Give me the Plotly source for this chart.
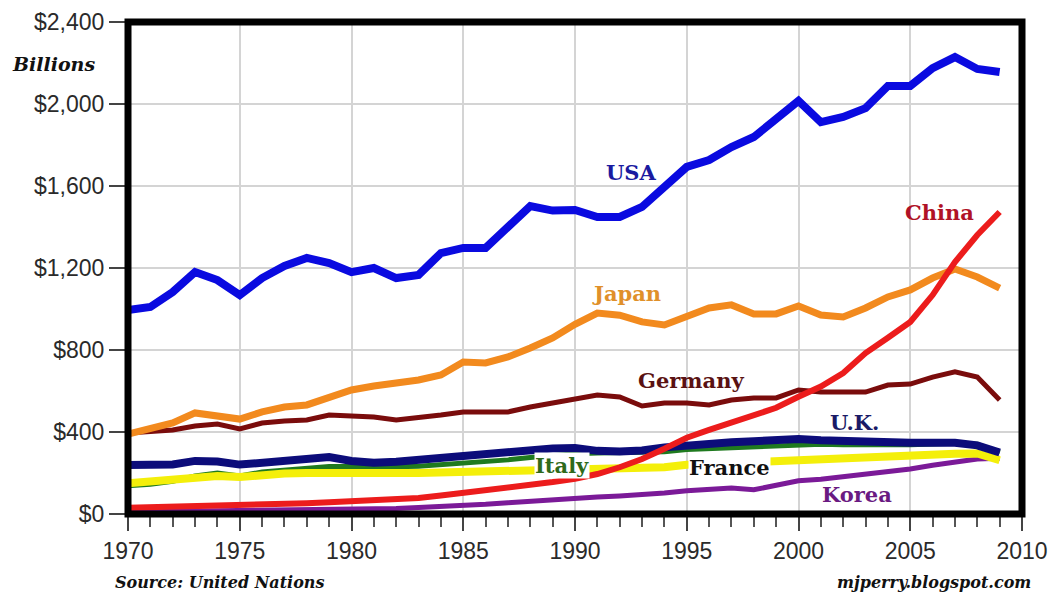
import plotly.graph_objects as go

years = list(range(1970, 2010))

usa = [995, 1010, 1083, 1180, 1141, 1068, 1151, 1210, 1249, 1224,
       1180, 1200, 1151, 1166, 1273, 1298, 1298, 1395, 1502, 1480,
       1483, 1449, 1449, 1498, 1595, 1693, 1727, 1790, 1839, 1932,
       2015, 1912, 1937, 1980, 2088, 2088, 2175, 2229, 2171, 2156]

china = [30, 32, 34, 37, 39, 42, 44, 47, 53, 57,
         61, 65, 71, 78, 90, 103, 112, 125, 140, 156,
         172, 195, 228, 268, 318, 372, 410, 447, 483, 518,
         572, 622, 688, 785, 860, 937, 1068, 1229, 1361, 1473]

japan = [390, 415, 444, 493, 478, 463, 498, 522, 532, 571,
         605, 624, 639, 654, 678, 741, 737, 766, 810, 859,
         925, 980, 970, 937, 922, 961, 1005, 1020, 976, 976,
         1015, 971, 961, 1005, 1059, 1093, 1151, 1195, 1156, 1102]

germany = [395, 400, 410, 429, 439, 415, 444, 454, 459, 483,
           478, 473, 459, 468, 483, 498, 498, 498, 522, 541,
           560, 580, 571, 527, 541, 541, 532, 556, 566, 566,
           605, 595, 595, 595, 629, 634, 668, 693, 668, 556]

uk = [239, 239, 242, 259, 256, 241, 249, 259, 268, 278,
      259, 250, 255, 265, 272, 278, 288, 300, 313, 320,
      322, 308, 305, 310, 325, 335, 342, 350, 355, 360,
      366, 360, 355, 355, 352, 348, 348, 348, 335, 300]

italy = [138, 145, 160, 185, 200, 185, 205, 212, 220, 232,
         232, 230, 230, 233, 240, 248, 255, 264, 276, 286,
         294, 298, 300, 296, 304, 315, 320, 324, 328, 331,
         338, 340, 338, 336, 338, 338, 342, 345, 340, 298]

france = [150, 158, 168, 180, 185, 180, 192, 197, 200, 202,
          200, 200, 200, 200, 202, 205, 208, 210, 215, 218,
          220, 222, 222, 224, 228, 240, 245, 250, 255, 260,
          263, 268, 272, 276, 280, 285, 290, 294, 295, 262]

korea = [10, 11, 12, 14, 15, 16, 18, 20, 22, 24,
         23, 25, 27, 32, 36, 40, 47, 55, 63, 68,
         76, 83, 88, 93, 102, 113, 120, 127, 118, 140,
         162, 170, 182, 190, 205, 220, 238, 255, 268, 272]

y_ticks = [0, 400, 800, 1200, 1600, 2000, 2400]
y_tick_labels = ["$0", "$400", "$800", "$1,200", "$1,600", "$2,000", "$2,400"]
x_ticks = [1970, 1975, 1980, 1985, 1990, 1995, 2000, 2005, 2010]

# (name, values, line colour, width, label colour, label x, label y, label bg)
series = [
    ("Korea", korea, "#7b1a98", 5, "#6a1a82", 2002.6, 93, None),
    ("Italy", italy, "#1f7a1f", 5, "#2f6a1a", 1989.4, 239, "white"),
    ("France", france, "#f4ef0a", 8, "#111111", 1996.9, 229, "white"),
    ("U.K.", uk, "#0c0c7a", 8, "#1a1a66", 2002.5, 444, None),
    ("Germany", germany, "#7a0c0c", 5, "#5a1212", 1995.2, 649, None),
    ("Japan", japan, "#f28a1e", 7, "#e0902a", 1992.3, 1078, None),
    ("China", china, "#ec1c1c", 6, "#b01226", 2006.3, 1473, None),
    ("USA", usa, "#0a0ae0", 8, "#1a1aa0", 1992.5, 1668, None),
]

fig = go.Figure()
for name, vals, col, w, lcol, lx, ly, bg in series:
    fig.add_trace(go.Scatter(x=years, y=vals, mode="lines", name=name,
                             line=dict(color=col, width=w), showlegend=False))

annotations = []
for name, vals, col, w, lcol, lx, ly, bg in series:
    a = dict(x=lx, y=ly, xref="x", yref="y", text="<b>%s</b>" % name,
             showarrow=False, font=dict(family="DejaVu Serif", size=21, color=lcol))
    if bg:
        a["bgcolor"] = bg
        a["borderpad"] = 0
    annotations.append(a)

annotations.append(dict(x=-0.132, y=0.915, xref="paper", yref="paper", xanchor="left",
                        yanchor="middle", text="<b><i>Billions</i></b>", showarrow=False,
                        font=dict(family="DejaVu Serif", size=19, color="#111111")))
annotations.append(dict(x=-0.017, y=-0.14, xref="paper", yref="paper", xanchor="left",
                        yanchor="middle", text="<b><i>Source: United Nations</i></b>",
                        showarrow=False,
                        font=dict(family="DejaVu Serif", size=16, color="#111111")))
annotations.append(dict(x=1.012, y=-0.14, xref="paper", yref="paper", xanchor="right",
                        yanchor="middle", text="<b><i>mjperry.blogspot.com</i></b>",
                        showarrow=False,
                        font=dict(family="DejaVu Serif", size=16, color="#111111")))

fig.update_layout(
    width=1052, height=594,
    margin=dict(l=128, r=30, t=22, b=80, autoexpand=False),
    paper_bgcolor="white", plot_bgcolor="white",
    annotations=annotations,
    shapes=[dict(type="rect", xref="paper", yref="paper", x0=0, y0=0, x1=1, y1=1,
                 line=dict(color="black", width=7), layer="above")],
)

fig.update_xaxes(range=[1970, 2010], tickvals=x_ticks, ticktext=[str(v) for v in x_ticks],
                 automargin=False,
                 showgrid=True, gridcolor="#d4d4d4", gridwidth=1.5,
                 ticks="outside", ticklen=16, tickwidth=1.5, tickcolor="#444444",
                 minor=dict(dtick=1, tick0=1970, ticks="outside", ticklen=12,
                            tickwidth=1.5, tickcolor="#555555", showgrid=False),
                 tickfont=dict(family="Liberation Sans Narrow, Liberation Sans", size=23,
                               color="#2a2a2a"),
                 zeroline=False, showline=False)
fig.update_yaxes(range=[0, 2400], tickvals=y_ticks, ticktext=y_tick_labels,
                 automargin=False,
                 showgrid=True, gridcolor="#d4d4d4", gridwidth=1.5,
                 ticks="outside", ticklen=18, tickwidth=1.5, tickcolor="#444444",
                 tickfont=dict(family="Liberation Sans", size=23, color="#2a2a2a"),
                 zeroline=False, showline=False)

fig.write_html("out.html", config={"displayModeBar": False},
               post_script="document.body.style.margin='0';")
